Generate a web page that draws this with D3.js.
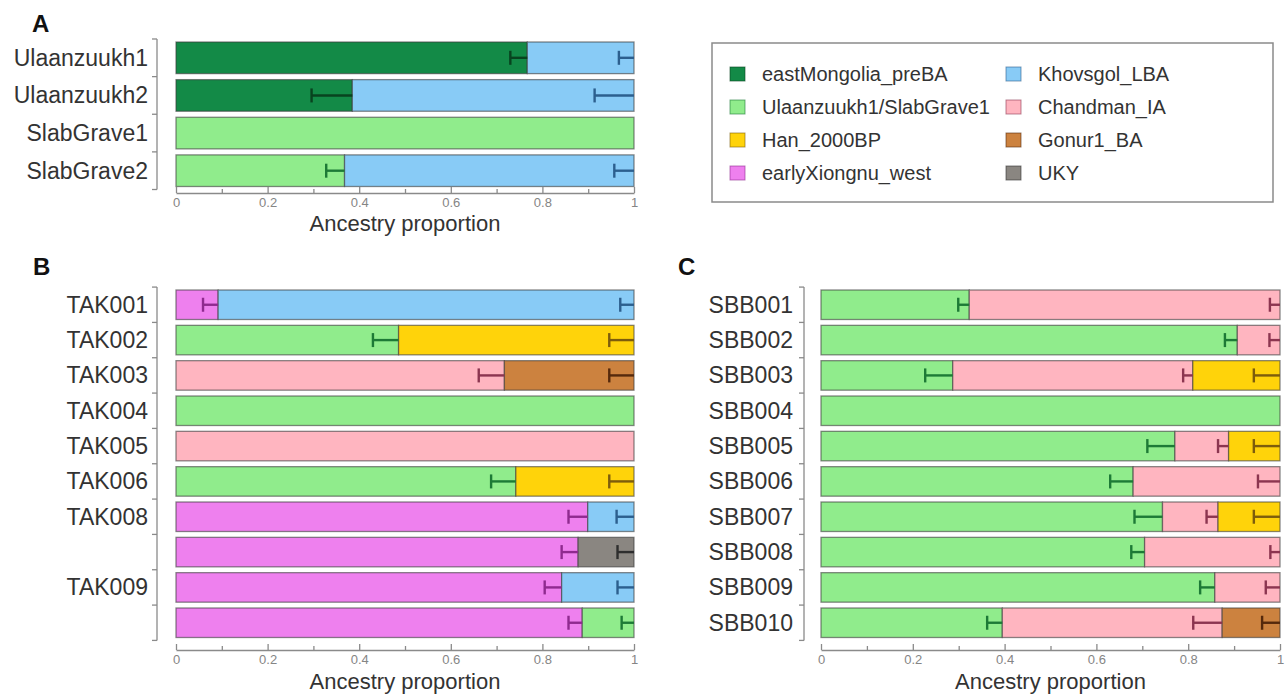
<!DOCTYPE html>
<html>
<head>
<meta charset="utf-8">
<script src="https://cdn.jsdelivr.net/npm/d3@7"></script>
<style>
  html, body { margin: 0; padding: 0; background: #fff; }
  svg { display: block; font-family: "Liberation Sans", Arial, Helvetica, sans-serif; }
</style>
</head>
<body>
<svg id="chart" width="1286" height="698"></svg>
<script>
// ---------- data ----------
const components = ["eastMongolia_preBA", "Ulaanzuukh1/SlabGrave1", "Han_2000BP", "earlyXiongnu_west",
                    "Khovsgol_LBA", "Chandman_IA", "Gonur1_BA", "UKY"];
const legendOrder = ["eastMongolia_preBA", "Ulaanzuukh1/SlabGrave1", "Han_2000BP", "earlyXiongnu_west",
                     "Khovsgol_LBA", "Chandman_IA", "Gonur1_BA", "UKY"];
const ticksMajor = [0, 0.2, 0.4, 0.6, 0.8, 1];
const ticksMinor = [0.1, 0.3, 0.5, 0.7, 0.9];

// Panel A
const labelsA = ["Ulaanzuukh1", "Ulaanzuukh2", "SlabGrave1", "SlabGrave2"];
const sourcesA = [["eastMongolia_preBA", "Khovsgol_LBA"], ["eastMongolia_preBA", "Khovsgol_LBA"],
                  ["Ulaanzuukh1/SlabGrave1"], ["Ulaanzuukh1/SlabGrave1", "Khovsgol_LBA"]];
const propsA = [[0.767, 0.233], [0.385, 0.615], [1], [0.368, 0.632]];
const errsA = [[0.037, 0.033], [0.089, 0.086], [0], [0.040, 0.043]];

// Panel B
const labelsB = ["TAK001", "TAK002", "TAK003", "TAK004", "TAK005", "TAK006", "TAK008", "", "TAK009", ""];
const sourcesB = [["earlyXiongnu_west", "Khovsgol_LBA"], ["Ulaanzuukh1/SlabGrave1", "Han_2000BP"],
                  ["Chandman_IA", "Gonur1_BA"], ["Ulaanzuukh1/SlabGrave1"], ["Chandman_IA"],
                  ["Ulaanzuukh1/SlabGrave1", "Han_2000BP"], ["earlyXiongnu_west", "Khovsgol_LBA"],
                  ["earlyXiongnu_west", "UKY"], ["earlyXiongnu_west", "Khovsgol_LBA"],
                  ["earlyXiongnu_west", "Ulaanzuukh1/SlabGrave1"]];
const propsB = [[0.092, 0.908], [0.486, 0.514], [0.717, 0.283], [1], [1], [0.742, 0.258],
                [0.899, 0.101], [0.878, 0.122], [0.842, 0.158], [0.887, 0.113]];
const errsB = [[0.033, 0.030], [0.056, 0.054], [0.056, 0.054], [0], [0], [0.054, 0.054],
               [0.042, 0.038], [0.036, 0.036], [0.037, 0.036], [0.030, 0.027]];

// Panel C
const labelsC = ["SBB001", "SBB002", "SBB003", "SBB004", "SBB005", "SBB006", "SBB007", "SBB008", "SBB009", "SBB010"];
const sourcesC = [["Ulaanzuukh1/SlabGrave1", "Chandman_IA"], ["Ulaanzuukh1/SlabGrave1", "Chandman_IA"],
                  ["Ulaanzuukh1/SlabGrave1", "Chandman_IA", "Han_2000BP"], ["Ulaanzuukh1/SlabGrave1"],
                  ["Ulaanzuukh1/SlabGrave1", "Chandman_IA", "Han_2000BP"], ["Ulaanzuukh1/SlabGrave1", "Chandman_IA"],
                  ["Ulaanzuukh1/SlabGrave1", "Chandman_IA", "Han_2000BP"], ["Ulaanzuukh1/SlabGrave1", "Chandman_IA"],
                  ["Ulaanzuukh1/SlabGrave1", "Chandman_IA"], ["Ulaanzuukh1/SlabGrave1", "Chandman_IA", "Gonur1_BA"]];
const propsC = [[0.323, 0.677], [0.907, 0.093], [0.287, 0.523, 0.190], [1], [0.771, 0.117, 0.112],
                [0.680, 0.320], [0.744, 0.121, 0.135], [0.705, 0.295], [0.858, 0.142], [0.395, 0.479, 0.126]];
const errsC = [[0.024, 0.022], [0.027, 0.023], [0.060, 0.021, 0.057], [0], [0.060, 0.023, 0.057],
               [0.050, 0.048], [0.061, 0.025, 0.057], [0.029, 0.021], [0.032, 0.031], [0.033, 0.063, 0.039]];

// ---------- styles ----------
const fillColors = ["#138a47", "#90ec8c", "#ffd30a", "#ee80ee", "#88cbf6", "#ffb5c0", "#cc823f", "#8a8681"];
const errColors  = ["#08431f", "#1d7a36", "#7d5d0c", "#8f2a8f", "#2c5f8e", "#8c3550", "#55290c", "#2e2e2e"];
const fill = d3.scaleOrdinal().domain(components).range(fillColors);
const errC = d3.scaleOrdinal().domain(components).range(errColors);

const svg = d3.select("#chart");

function drawPanel(cfg) {
  const g = svg.append("g");
  const x = d3.scaleLinear().domain([0, 1]).range([cfg.x0, cfg.x1]);
  const y = d3.scaleBand().domain(d3.range(cfg.labels.length)).range([cfg.y0, cfg.y1]).paddingInner(cfg.pad);
  const gap = y.step() - y.bandwidth();

  // left bracket axis
  const yTop = cfg.y0 - gap / 2, yBot = cfg.y1 + gap / 2;
  g.append("line").attr("x1", cfg.axX).attr("x2", cfg.axX).attr("y1", yTop).attr("y2", yBot)
    .attr("stroke", "#8a8a8a").attr("stroke-width", 1.3);
  const bounds = d3.range(cfg.labels.length + 1).map(i => yTop + i * y.step());
  g.selectAll(".ytk").data(bounds).join("line")
    .attr("x1", cfg.axX - 5).attr("x2", cfg.axX).attr("y1", d => d).attr("y2", d => d)
    .attr("stroke", "#8a8a8a").attr("stroke-width", 1.3);

  // labels
  g.selectAll(".ylab").data(cfg.labels).join("text")
    .attr("x", cfg.labX).attr("y", (d, i) => y(i) + y.bandwidth() / 2)
    .attr("text-anchor", "end").attr("dominant-baseline", "central")
    .attr("font-size", 23).attr("fill", "#333").text(d => d);

  // bars
  cfg.props.forEach((row, i) => {
    let cum = 0;
    const segs = row.map((p, j) => {
      const s = { src: cfg.sources[i][j], start: cum, end: cum + p, err: cfg.errs[i][j] };
      cum += p;
      return s;
    });
    const rg = g.append("g");
    rg.selectAll("rect").data(segs).join("rect")
      .attr("x", d => x(d.start)).attr("width", d => x(d.end) - x(d.start))
      .attr("y", y(i)).attr("height", y.bandwidth())
      .attr("fill", d => fill(d.src))
      .attr("stroke", "#3c3c3c").attr("stroke-opacity", 0.6).attr("stroke-width", 1.3);
    const cy = y(i) + y.bandwidth() / 2;
    const eb = segs.filter(d => d.err > 0);
    rg.selectAll(".eh").data(eb).join("line")
      .attr("x1", d => x(d.end - d.err)).attr("x2", d => x(d.end))
      .attr("y1", cy).attr("y2", cy)
      .attr("stroke", d => errC(d.src)).attr("stroke-width", 2.4);
    rg.selectAll(".ev").data(eb).join("line")
      .attr("x1", d => x(d.end - d.err)).attr("x2", d => x(d.end - d.err))
      .attr("y1", cy - 7).attr("y2", cy + 7)
      .attr("stroke", d => errC(d.src)).attr("stroke-width", 2.4);
  });

  // x axis
  const axG = g.append("g").attr("transform", `translate(0,${cfg.axY})`)
    .call(d3.axisBottom(x).tickValues(ticksMajor).tickSize(-6).tickSizeOuter(0).tickPadding(5)
      .tickFormat(d3.format("~g")));
  axG.select(".domain").attr("stroke", "#8a8a8a").attr("stroke-width", 1.3);
  axG.selectAll(".tick line").attr("stroke", "#8a8a8a").attr("stroke-width", 1.3);
  axG.selectAll(".tick text").attr("font-size", 13).attr("fill", "#858585")
    .attr("font-family", "'Liberation Sans', Arial, sans-serif");
  const mG = g.append("g").attr("transform", `translate(0,${cfg.axY})`)
    .call(d3.axisBottom(x).tickValues(ticksMinor).tickSize(-4).tickSizeOuter(0).tickFormat(""));
  mG.select(".domain").remove();
  mG.selectAll(".tick line").attr("stroke", "#8a8a8a").attr("stroke-width", 1.3);

  g.append("text").attr("x", (cfg.x0 + cfg.x1) / 2).attr("y", cfg.titleY)
    .attr("text-anchor", "middle").attr("font-size", 22).attr("fill", "#333")
    .text("Ancestry proportion");

  svg.append("text").attr("x", cfg.letterX).attr("y", cfg.letterY)
    .attr("font-size", 24).attr("font-weight", "bold").attr("fill", "#111").text(cfg.letter);
}

drawPanel({ labels: labelsA, sources: sourcesA, props: propsA, errs: errsA,
  x0: 176, x1: 634, y0: 42, y1: 186.5, pad: 0.16, axX: 157, labX: 148, axY: 193, titleY: 231,
  letter: "A", letterX: 32, letterY: 32 });
drawPanel({ labels: labelsB, sources: sourcesB, props: propsB, errs: errsB,
  x0: 176, x1: 634, y0: 290, y1: 637.5, pad: 0.165, axX: 157, labX: 148, axY: 650, titleY: 689,
  letter: "B", letterX: 33, letterY: 275 });
drawPanel({ labels: labelsC, sources: sourcesC, props: propsC, errs: errsC,
  x0: 821, x1: 1280, y0: 290, y1: 637.5, pad: 0.165, axX: 804, labX: 793, axY: 650, titleY: 689,
  letter: "C", letterX: 678, letterY: 275 });

// ---------- legend ----------
const lg = svg.append("g");
lg.append("rect").attr("x", 712).attr("y", 43).attr("width", 561).attr("height", 159)
  .attr("fill", "#fff").attr("stroke", "#8a8a8a").attr("stroke-width", 1.5);
const legX = [730, 1006], legY = [74, 107, 140, 173];
const items = lg.selectAll(".li").data(legendOrder).join("g")
  .attr("transform", (d, i) => `translate(${legX[Math.floor(i / 4)]},${legY[i % 4]})`);
items.append("rect").attr("x", 0).attr("y", -7).attr("width", 15).attr("height", 14)
  .attr("fill", d => fill(d)).attr("stroke", d => errC(d)).attr("stroke-opacity", 0.6).attr("stroke-width", 1);
items.append("text").attr("x", 32).attr("y", 0).attr("dominant-baseline", "central")
  .attr("font-size", 20).attr("fill", "#333").text(d => d);
</script>
</body>
</html>
